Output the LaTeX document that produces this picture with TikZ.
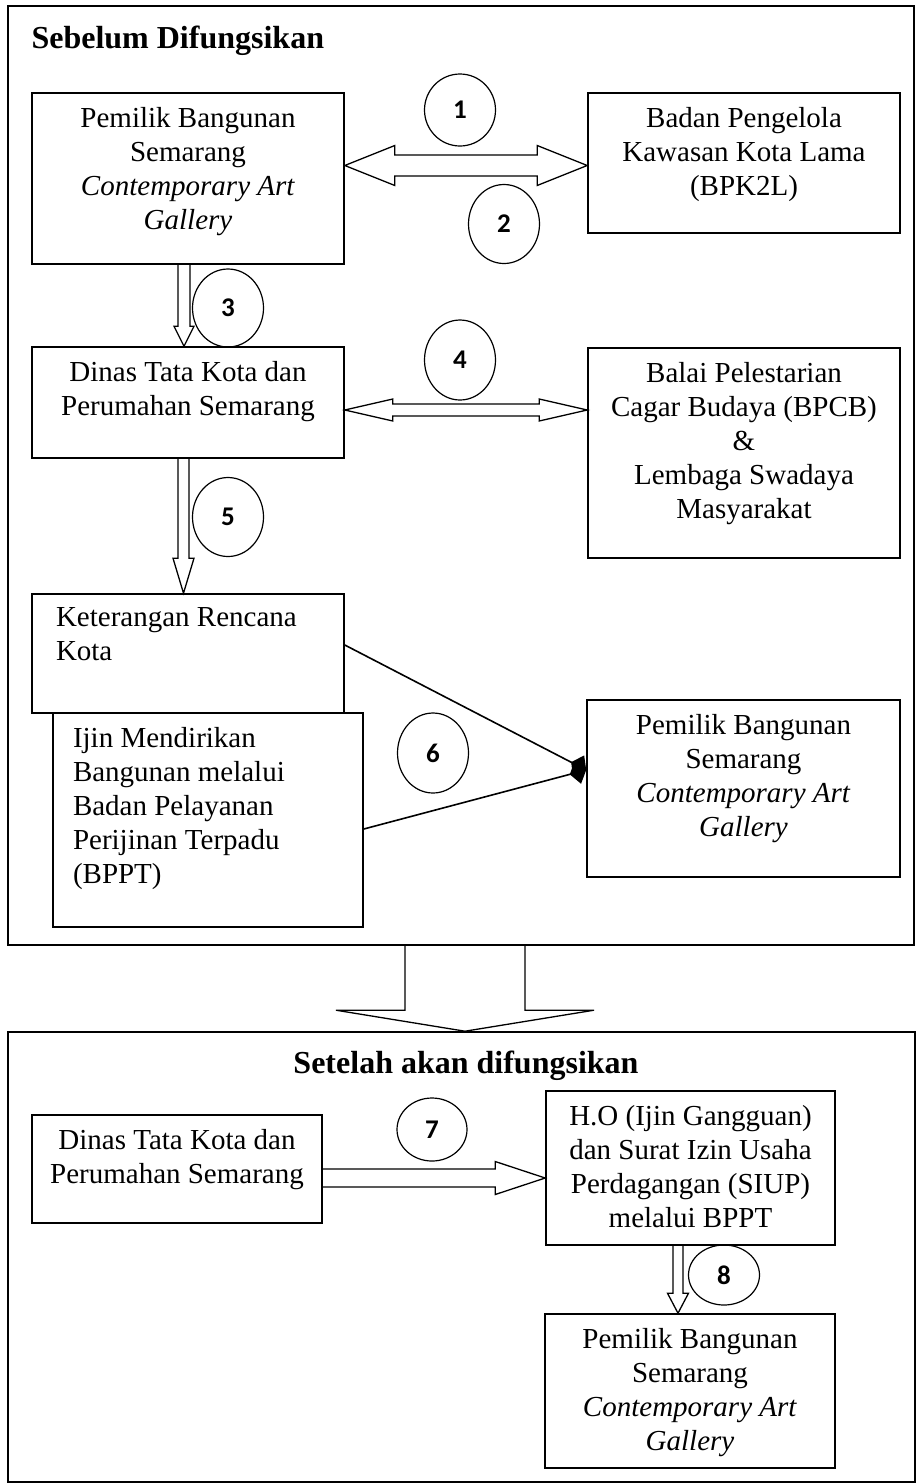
\documentclass[tikz,border=0pt]{standalone}
\usepackage{fontspec}
\setmainfont{Liberation Serif}
\newfontfamily\numfont{Carlito}
\usetikzlibrary{arrows.meta,calc,shapes.geometric}

\newcommand{\boxfont}{\fontsize{29}{34}\selectfont}
\newcommand{\midtext}[3]{\parbox[c][#2pt][t]{#1pt}{\centering\vspace*{14pt}#3}}
\newcommand{\lefttext}[4]{\parbox[c][#2pt][t]{#1pt}{\raggedright\leftskip=#3pt\vspace*{14pt}#4}}
% block arrows: tip/start, tip, shaft half width, head half width, head length
\newcommand{\dblharrow}[5]{\draw[blk] (#1) -- ($(#1)+(#5,-#4)$) -- ($(#1)+(#5,-#3)$) -- ($(#2)+(-#5,-#3)$) -- ($(#2)+(-#5,-#4)$) -- (#2) -- ($(#2)+(-#5,#4)$) -- ($(#2)+(-#5,#3)$) -- ($(#1)+(#5,#3)$) -- ($(#1)+(#5,#4)$) -- cycle;}
\newcommand{\sgldarrow}[5]{\draw[blk] ($(#1)+(-#3,0)$) -- ($(#2)+(-#3,-#5)$) -- ($(#2)+(-#4,-#5)$) -- (#2) -- ($(#2)+(#4,-#5)$) -- ($(#2)+(#3,-#5)$) -- ($(#1)+(#3,0)$);}
\newcommand{\sglrarrow}[5]{\draw[blk] ($(#1)+(0,-#3)$) -- ($(#2)+(-#5,-#3)$) -- ($(#2)+(-#5,-#4)$) -- (#2) -- ($(#2)+(-#5,#4)$) -- ($(#2)+(-#5,#3)$) -- ($(#1)+(0,#3)$);}

\begin{document}
\begin{tikzpicture}[x=1pt, y=-1pt,
    box/.style={draw, line width=1.6pt, inner sep=0pt, font=\boxfont},
    frame/.style={draw, line width=1.6pt, inner sep=0pt},
    num/.style={draw, ellipse, line width=1.2pt, inner sep=0pt, minimum width=71, font=\numfont\bfseries\fontsize{27}{27}\selectfont},
    blk/.style={draw, line width=1.3pt, line join=miter},
    con/.style={line width=1.6pt, -{Diamond[length=17pt,width=24pt]}},
    title/.style={font=\bfseries\fontsize{32}{32}\selectfont}]
    \useasboundingbox[fill=white] (0,0) rectangle (917,1484);

    \node[frame, minimum width=906, minimum height=939] (before) at (461,475.5) {};
    \node[frame, minimum width=907, minimum height=450] (after) at (461.5,1257) {};
    \node[title, anchor=base west] (beforetitle) at (28,48) {Sebelum Difungsikan};
    \node[title, anchor=base] (aftertitle) at (466,1073) {Setelah akan difungsikan};

    \node[box] (pemilik1) at (188,178.5) {\midtext{312}{171}{Pemilik Bangunan\\ Semarang\\ \textit{Contemporary Art}\\ \textit{Gallery}}};
    \node[box] (badan) at (744,163) {\midtext{312}{140}{Badan Pengelola\\ Kawasan Kota Lama\\ (BPK2L)}};
    \node[box] (dinas1) at (188,402.5) {\midtext{312}{111}{Dinas Tata Kota dan\\ Perumahan Semarang}};
    \node[box] (balai) at (744,453) {\midtext{312}{210}{Balai Pelestarian\\ Cagar Budaya (BPCB)\\ \&\\ Lembaga Swadaya\\ Masyarakat}};
    \node[box] (rencana) at (188,653.5) {\lefttext{312}{119}{24}{Keterangan Rencana\\ Kota}};
    \node[box] (ijin) at (208,820) {\lefttext{310}{214}{20}{Ijin Mendirikan\\ Bangunan melalui\\ Badan Pelayanan\\ Perijinan Terpadu\\ (BPPT)}};
    \node[box] (pemilik2) at (743.5,788.5) {\midtext{313}{177}{Pemilik Bangunan\\ Semarang\\ \textit{Contemporary Art}\\ \textit{Gallery}}};

    \node[box] (dinas2) at (177,1169) {\midtext{290}{108}{Dinas Tata Kota dan\\ Perumahan Semarang}};
    \node[box] (izin) at (690.5,1168) {\midtext{289}{154}{H.O (Ijin Gangguan)\\ dan Surat Izin Usaha\\ Perdagangan (SIUP)\\ melalui BPPT}};
    \node[box] (pemilik3) at (690,1391) {\midtext{290}{154}{Pemilik Bangunan\\ Semarang\\ \textit{Contemporary Art}\\ \textit{Gallery}}};

    \node[num, minimum height=72] (c1) at (460,110) {1};
    \node[num, minimum height=79] (c2) at (504,224) {2};
    \node[num, minimum height=78] (c3) at (228,308) {3};
    \node[num, minimum height=80] (c4) at (460,360) {4};
    \node[num, minimum height=79] (c5) at (228,517) {5};
    \node[num, minimum height=80] (c6) at (433,753) {6};
    \node[num, minimum width=70, minimum height=63] (c7) at (432,1129.5) {7};
    \node[num, minimum height=60] (c8) at (724,1275) {8};

    \coordinate (t1a) at ([yshift=13pt]pemilik1.east);
    \coordinate (t1b) at ([yshift=-2.5pt]badan.west);
    \dblharrow{t1a}{t1b}{10.5}{20}{50}
    \coordinate (s3) at ([xshift=-4pt]pemilik1.south);
    \coordinate (t3) at ([xshift=-4pt]dinas1.north);
    \sgldarrow{s3}{t3}{6}{10}{20}
    \coordinate (t4a) at ([yshift=-7.5pt]dinas1.east);
    \coordinate (t4b) at ([yshift=43pt]balai.west);
    \dblharrow{t4a}{t4b}{6}{11}{48}
    \coordinate (s5) at ([xshift=-4.5pt]dinas1.south);
    \coordinate (t5) at ([xshift=-4.5pt]rencana.north);
    \sgldarrow{s5}{t5}{5.5}{10.5}{35}

    \coordinate (t6) at ([yshift=18.5pt]pemilik2.west);
    \draw[con] ([yshift=8.5pt]rencana.east) -- (t6);
    \draw[con] ([yshift=-9pt]ijin.east) -- (t6);

    \coordinate (sbig) at ([xshift=4pt]before.south);
    \coordinate (tbig) at ([xshift=3.5pt]after.north);
    \sgldarrow{sbig}{tbig}{60}{129}{21}

    \coordinate (s7) at ([yshift=-9pt]dinas2.east);
    \coordinate (t7) at ([yshift=-10pt]izin.west);
    \sglrarrow{s7}{t7}{9}{16.5}{50}
    \coordinate (s8) at ([xshift=-12.5pt]izin.south);
    \coordinate (t8) at ([xshift=-12pt]pemilik3.north);
    \sgldarrow{s8}{t8}{5}{10.5}{20}
\end{tikzpicture}
\end{document}
